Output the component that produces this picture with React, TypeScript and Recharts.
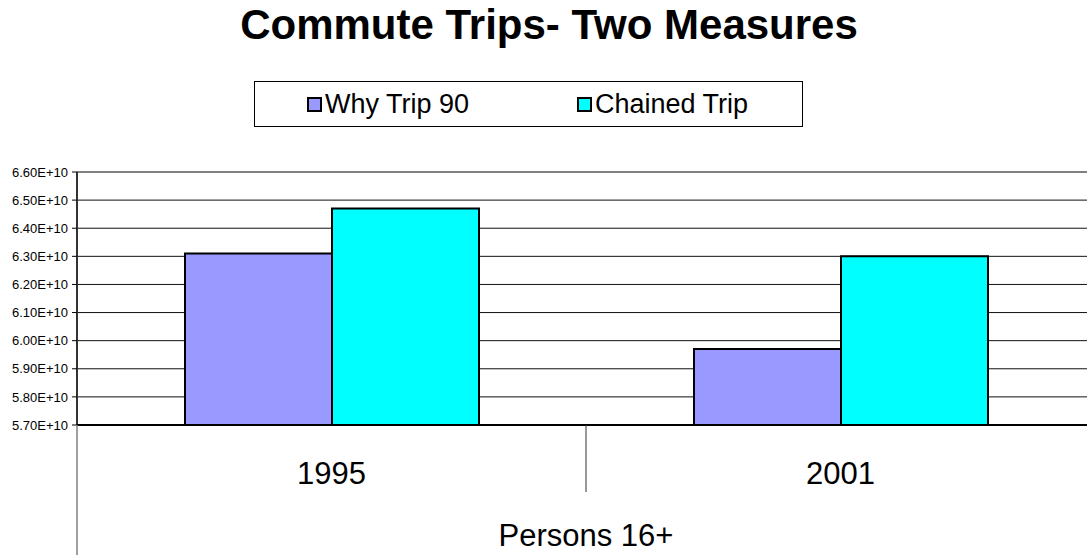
import React from "react";
import { BarChart, Bar, XAxis, YAxis, CartesianGrid, ReferenceLine } from "recharts";

const categories = ["1995", "2001"];
const whyTrip90 = [6.31e10, 5.97e10];
const chainedTrip = [6.47e10, 6.3e10];
const yTicks = [5.7e10, 5.8e10, 5.9e10, 6.0e10, 6.1e10, 6.2e10, 6.3e10, 6.4e10, 6.5e10, 6.6e10];
const groupLabel = "Persons 16+";

const series = [
  { key: "why", name: "Why Trip 90", color: "#9999FF" },
  { key: "chained", name: "Chained Trip", color: "#00FFFF" },
];

const data = categories.map((year, i) => ({
  year,
  why: whyTrip90[i],
  chained: chainedTrip[i],
}));

const FONT = '"Liberation Sans", Arial, sans-serif';

const fmt = (v: number) => v.toExponential(2).toUpperCase();

// x-axis ticks: year label, plus the category dividers and the group label
function YearTick(props: any) {
  const { x, y, payload, index } = props;
  const y0 = y - 8; // recharts adds tickSize + tickMargin even with no tick line
  const half = payload?.offset ?? 254.5;
  return (
    <g>
      <text x={x} y={y0 + 59} textAnchor="middle" fontSize={31} fontFamily={FONT} fill="#000">
        {payload.value}
      </text>
      {index === 0 && (
        <>
          <line x1={x - half} y1={y0} x2={x - half} y2={y0 + 135} stroke="#808080" strokeWidth={1.5} />
          <line x1={x + half} y1={y0} x2={x + half} y2={y0 + 67} stroke="#333" strokeWidth={1} />
          <text x={x + half} y={y0 + 121} textAnchor="middle" fontSize={31} fontFamily={FONT} fill="#000">
            {groupLabel}
          </text>
        </>
      )}
    </g>
  );
}

function LegendBox() {
  const lefts = [52, 322];
  return (
    <div
      style={{
        position: "absolute",
        left: 254,
        top: 81,
        width: 547,
        height: 44,
        border: "1px solid #000",
        background: "#fff",
        fontFamily: FONT,
      }}
    >
      {series.map((s, i) => (
        <div
          key={s.key}
          style={{
            position: "absolute",
            left: lefts[i],
            top: 0,
            height: 44,
            display: "flex",
            alignItems: "center",
            fontSize: 27,
            color: "#000",
            whiteSpace: "nowrap",
          }}
        >
          <span
            style={{
              display: "inline-block",
              width: 11,
              height: 11,
              background: s.color,
              border: "2px solid #000",
              marginRight: 3,
            }}
          />
          {s.name}
        </div>
      ))}
    </div>
  );
}

export default function App() {
  return (
    <div
      style={{
        position: "absolute",
        left: 0,
        top: 0,
        width: 1087,
        height: 555,
        overflow: "hidden",
        background: "#fff",
      }}
    >
      <div
        style={{
          position: "absolute",
          left: 0,
          width: 1098,
          top: 1,
          textAlign: "center",
          fontFamily: FONT,
          fontWeight: "bold",
          fontSize: 42,
          lineHeight: "normal",
          color: "#000",
        }}
      >
        Commute Trips- Two Measures
      </div>
      <LegendBox />
      <div style={{ position: "absolute", left: 0, top: 0 }}>
        <BarChart
          width={1095}
          height={555}
          data={data}
          margin={{ top: 172, right: 0, bottom: 0, left: 0 }}
          barCategoryGap={108}
          barGap={0}
        >
          <CartesianGrid vertical={false} stroke="#111" strokeWidth={1} />
          <ReferenceLine y={6.6e10} stroke="#808080" strokeWidth={2} />
          <YAxis
            type="number"
            domain={[5.7e10, 6.6e10]}
            ticks={yTicks}
            tickFormatter={fmt}
            width={77}
            interval={0}
            tickSize={5}
            tickMargin={4}
            axisLine={{ stroke: "#333", strokeWidth: 2 }}
            tickLine={{ stroke: "#000" }}
            tick={{ fontSize: 13, fontFamily: FONT, fill: "#000" }}
            allowDataOverflow
          />
          <XAxis
            dataKey="year"
            height={130}
            tickLine={false}
            axisLine={{ stroke: "#000", strokeWidth: 2 }}
            tick={<YearTick />}
            interval={0}
          />
          {series.map((s) => (
            <Bar
              key={s.key}
              dataKey={s.key}
              name={s.name}
              fill={s.color}
              stroke="#000"
              strokeWidth={2}
              isAnimationActive={false}
            />
          ))}
        </BarChart>
      </div>
    </div>
  );
}
